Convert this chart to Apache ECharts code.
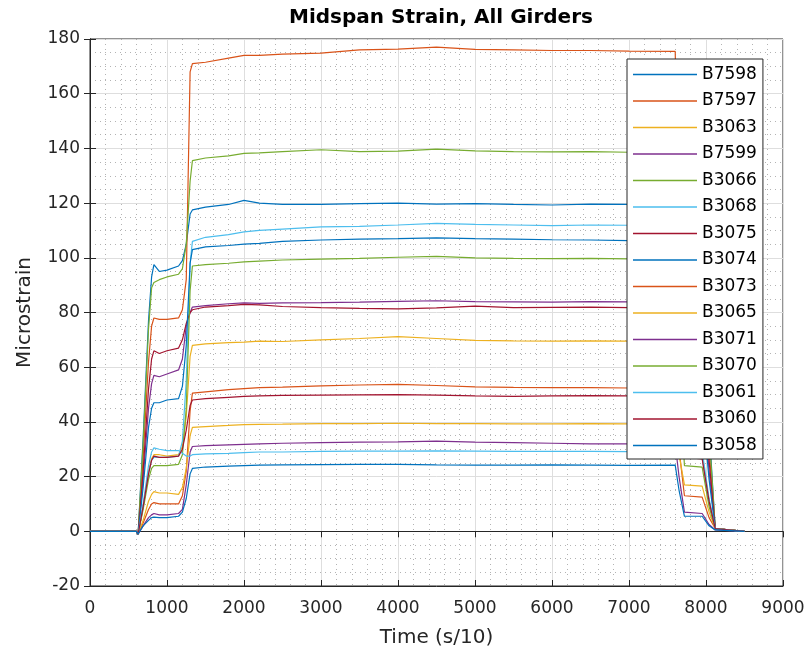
<!DOCTYPE html>
<html>
<head>
<meta charset="utf-8">
<script src="https://cdn.jsdelivr.net/npm/echarts@6/dist/echarts.min.js"></script>
<style>
  html, body { margin: 0; padding: 0; background: #fff; }
  #chart { width: 809px; height: 658px; }
</style>
</head>
<body>
<div id="chart"></div>
<script>
// time stamps (s/10) shared by all girders
var times = [0, 600, 625, 690, 760, 800, 830, 900, 1000, 1150, 1200, 1250, 1300, 1330, 1500, 1800, 2000, 2200, 2500, 3000, 3500, 4000, 4500, 5000, 5500, 6000, 6500, 7000, 7600, 7650, 7720, 7950, 8040, 8120, 8500];

var names = ['B7598', 'B7597', 'B3063', 'B7599', 'B3066', 'B3068', 'B3075', 'B3074', 'B3073', 'B3065', 'B3071', 'B3070', 'B3061', 'B3060', 'B3058'];

// microstrain per girder, same order as names
var b7598 = [0, 0, -1, 34, 77, 93, 97.5, 95, 95.5, 97, 99, 105, 116, 117.5, 118.5, 119.5, 121, 120, 119.5, 119.5, 119.8, 120, 119.6, 119.8, 119.5, 119.3, 119.6, 119.5, 119.6, 108, 97, 96, 38, 1, 0];
var b7597 = [0, 0, -1, 27, 62, 75, 78, 77.5, 77.5, 78, 81, 92, 168, 171, 171.5, 173, 174, 174, 174.5, 174.8, 176, 176.3, 177, 176.2, 176, 175.8, 175.8, 175.6, 175.5, 110, 78, 77, 30, 1, 0];
var b3063 = [0, 0, -1, 9, 22, 26.5, 28, 28, 27.5, 28, 31, 42, 64, 68, 68.5, 69, 69.2, 69.5, 69.4, 70, 70.5, 71.2, 70.5, 69.8, 69.6, 69.5, 69.6, 69.5, 69.5, 48, 28, 27.5, 11, 1, 0];
var b7599 = [0, 0, -1, 19, 45, 54, 57, 56.5, 57.5, 59, 63, 75, 80, 82, 82.5, 83.2, 83.5, 83.3, 83.5, 83.6, 83.8, 84.1, 84.3, 84, 83.9, 83.8, 84, 83.9, 84, 70, 57, 56, 22, 1, 0];
var b3066 = [0, 0, -1, 32, 74, 89, 91, 92, 93, 94, 96, 105, 128, 135.5, 136.5, 137.3, 138.2, 138.4, 138.8, 139.5, 138.8, 139, 139.7, 139.1, 138.8, 138.7, 138.8, 138.6, 138.7, 115, 93, 92, 36, 1, 0];
var b3068 = [0, 0, -1, 9, 21, 26, 27, 27, 27, 27.5, 33, 55, 98, 106, 107.5, 108.5, 109.5, 110, 110.5, 111.3, 111.5, 112, 112.6, 112.2, 112, 111.8, 112, 111.9, 112, 70, 28, 27, 11, 1, 0];
var b3075 = [0, 0, -1, 22, 52, 63, 66, 65, 66, 67, 70, 76, 80, 81, 82, 82.5, 83, 82.8, 82.2, 81.8, 81.5, 81.3, 81.7, 82.3, 81.8, 81.9, 82, 81.8, 82, 74, 66, 65, 26, 1, 0];
var b3074 = [0, 0, -1, 16, 38, 45, 47, 47, 48, 48.5, 53, 68, 98, 103, 104, 104.5, 105, 105.3, 106, 106.5, 106.8, 107, 107.3, 107, 106.8, 106.6, 106.5, 106.3, 106.4, 78, 48, 47, 19, 1, 0];
var b3073 = [0, 0, -1, 3, 8, 10, 10.5, 10, 10, 10, 13, 22, 44, 50.5, 51, 51.8, 52.2, 52.5, 52.7, 53.2, 53.5, 53.7, 53.3, 52.8, 52.6, 52.5, 52.5, 52.4, 52.5, 30, 13, 12.5, 5, 1, 0];
var b3065 = [0, 0, -1, 4, 11, 13.5, 14.5, 14, 14, 13.5, 16, 23, 35, 38, 38.3, 38.7, 39, 39.1, 39.2, 39.4, 39.4, 39.5, 39.4, 39.4, 39.3, 39.3, 39.4, 39.3, 39.3, 28, 17, 16.5, 7, 1, 0];
var b3071 = [0, 0, -1, 2, 5, 6, 6.5, 6, 6, 6.5, 8, 17, 29, 31, 31.3, 31.6, 31.8, 32, 32.2, 32.4, 32.6, 32.7, 33, 32.6, 32.4, 32.2, 32, 32, 32, 20, 7, 6.5, 2.5, 0.5, 0];
var b3070 = [0, 0, -1, 8, 19, 23, 24, 24, 24, 24.5, 28, 45, 88, 97, 97.5, 98, 98.5, 98.8, 99.2, 99.5, 99.8, 100.2, 100.5, 100, 99.8, 99.7, 99.8, 99.6, 99.7, 60, 24, 23.5, 9, 1, 0];
var b3061 = [0, 0, -1, 10, 24, 29, 30.5, 30, 29.5, 29.5, 28.5, 27.5, 27.5, 28, 28.3, 28.5, 28.8, 29, 29, 29.2, 29.3, 29.3, 29.4, 29.3, 29.2, 29.2, 29.2, 29.1, 29.2, 29.5, 30, 29.5, 12, 1, 0];
var b3060 = [0, 0, -1, 9, 21, 26, 27.5, 27, 27, 27.5, 30, 37, 46, 48, 48.5, 49, 49.3, 49.5, 49.7, 49.8, 49.9, 50, 49.8, 49.5, 49.3, 49.5, 49.6, 49.5, 49.6, 38, 27, 26.5, 11, 1, 0];
var b3058 = [0, 0, -1, 2, 4, 5, 5.2, 5, 5, 5.5, 7, 12, 21, 23, 23.5, 23.8, 24, 24.2, 24.3, 24.4, 24.5, 24.5, 24.3, 24.2, 24.2, 24.3, 24.2, 24.1, 24.2, 15, 5.5, 5.5, 2, 0.5, 0];

var values = [b7598, b7597, b3063, b7599, b3066, b3068, b3075, b3074, b3073, b3065, b3071, b3070, b3061, b3060, b3058];

// matlab default line colours
var colors = ['#0072BD', '#D95319', '#EDB120', '#7E2F8E', '#77AC30', '#4DBEEE', '#A2142F'];

var font = "'DejaVu Sans', 'Liberation Sans', sans-serif";
var ink = '#262626';

var myChart = echarts.init(document.getElementById('chart'));

var series = names.map(function (name, i) {
    return {
        name: name,
        type: 'line',
        xAxisIndex: 0,
        yAxisIndex: 0,
        showSymbol: false,
        symbol: 'none',
        color: colors[i % colors.length],
        lineStyle: { width: 1.2 },
        data: times.map(function (t, k) { return [t, values[i][k]]; })
    };
});

var minorLine = { show: true, lineStyle: { color: '#999', width: 1, type: [1, 4], opacity: 0.75 } };
var plain = function (v) { return String(v); };

option = {
    animation: false,
    backgroundColor: '#fff',
    title: {
        text: 'Midspan Strain, All Girders',
        left: 436,
        textAlign: 'center',
        top: 3,
        textStyle: { fontFamily: font, fontSize: 20, fontWeight: 'bold', color: '#000' }
    },
    legend: {
        data: names,
        orient: 'vertical',
        left: 627,
        top: 59,
        padding: [7, 6, 5, 6],
        itemGap: 9.5,
        itemWidth: 64,
        itemHeight: 1.5,
        icon: 'rect',
        backgroundColor: '#fff',
        borderColor: ink,
        borderWidth: 1,
        borderRadius: 0,
        textStyle: { fontFamily: font, fontSize: 17, color: '#000', lineHeight: 17 }
    },
    grid: {
        left: 90,
        right: 26,
        top: 39,
        bottom: 72,
        show: true,
        borderColor: ink,
        borderWidth: 1
    },
    xAxis: [{
        type: 'value',
        min: 0,
        max: 9000,
        interval: 1000,
        name: 'Time (s/10)',
        nameLocation: 'middle',
        nameGap: 42,
        nameTextStyle: { fontFamily: font, fontSize: 20, color: ink },
        axisLine: { show: true, onZero: false, lineStyle: { color: ink } },
        axisTick: { show: true, inside: true, length: 6, lineStyle: { color: ink } },
        axisLabel: { fontFamily: font, fontSize: 17, color: ink, margin: 14, formatter: plain },
        splitLine: { show: true, lineStyle: { color: '#dedede' } },
        minorTick: { show: false, splitNumber: 5 },
        minorSplitLine: minorLine
    }, {
        type: 'value',
        position: 'top',
        min: 0,
        max: 9000,
        interval: 1000,
        axisLine: { show: true, lineStyle: { color: ink } },
        axisTick: { show: true, inside: true, length: 6, lineStyle: { color: ink } },
        axisLabel: { show: false },
        splitLine: { show: false }
    }],
    yAxis: [{
        type: 'value',
        min: -20,
        max: 180,
        interval: 20,
        name: 'Microstrain',
        nameLocation: 'middle',
        nameGap: 55,
        nameTextStyle: { fontFamily: font, fontSize: 20, color: ink },
        axisLine: { show: true, onZero: false, lineStyle: { color: ink } },
        axisTick: { show: true, inside: true, length: 6, lineStyle: { color: ink } },
        axisLabel: { fontFamily: font, fontSize: 17, color: ink, margin: 10, formatter: plain },
        splitLine: { show: true, lineStyle: { color: '#dedede' } },
        minorTick: { show: false, splitNumber: 4 },
        minorSplitLine: minorLine
    }, {
        type: 'value',
        position: 'right',
        min: -20,
        max: 180,
        interval: 20,
        axisLine: { show: true, lineStyle: { color: ink } },
        axisTick: { show: true, inside: true, length: 6, lineStyle: { color: ink } },
        axisLabel: { show: false },
        splitLine: { show: false }
    }],
    series: series
};

myChart.setOption(option);
</script>
</body>
</html>
